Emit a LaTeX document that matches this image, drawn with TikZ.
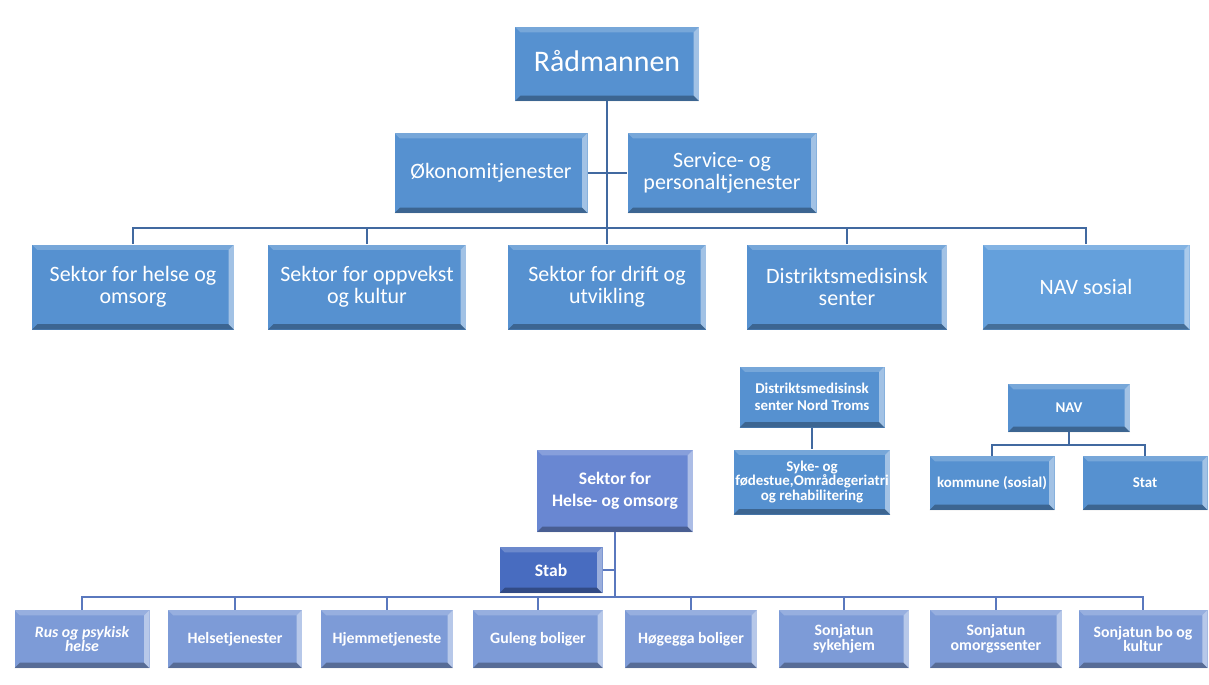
\documentclass[tikz,border=0pt]{standalone}
\usepackage{fontspec}
\setmainfont{Carlito}
\usepackage{tikz}
\definecolor{topblue}{RGB}{86,145,208}
\definecolor{navblue}{RGB}{100,160,220}
\definecolor{lowblue}{RGB}{125,155,215}
\definecolor{sekblue}{RGB}{105,135,210}
\definecolor{stabblue}{RGB}{72,108,192}
\definecolor{linetop}{RGB}{65,105,160}
\definecolor{linelow}{RGB}{90,120,190}
\tikzset{bevel/.style={path picture={
  \fill[black,opacity=.3] (path picture bounding box.south west) -- (path picture bounding box.south east) -- ([shift={(-3pt,3pt)}]path picture bounding box.south east) -- ([shift={(3pt,3pt)}]path picture bounding box.south west) -- cycle;
  \fill[white,opacity=.45] (path picture bounding box.south east) -- (path picture bounding box.north east) -- ([shift={(-3pt,-3pt)}]path picture bounding box.north east) -- ([shift={(-3pt,3pt)}]path picture bounding box.south east) -- cycle;
  \fill[white,opacity=.2] (path picture bounding box.north west) -- (path picture bounding box.north east) -- ([shift={(-3pt,-3pt)}]path picture bounding box.north east) -- ([shift={(3pt,-3pt)}]path picture bounding box.north west) -- cycle;
}}}
\tikzset{unit/.style={fill=topblue, text=white, align=center, inner sep=1pt, bevel}}
\tikzset{sz/.style 2 args={minimum width={#1*0.02cm}, minimum height={#2*0.02cm}}}
\tikzset{big/.style={font=\fontsize{12.5}{12.5}\selectfont}}
\tikzset{small/.style={font=\bfseries\fontsize{8.5}{10}\selectfont}}
\tikzset{low/.style={unit, fill=lowblue, font=\bfseries\fontsize{9}{8.5}\selectfont}}
\tikzset{conn/.style={draw=linetop, line width=0.8pt}}
\tikzset{connlow/.style={draw=linelow, line width=0.8pt}}

\begin{document}
\begin{tikzpicture}[x=0.02cm, y=-0.02cm]
    \useasboundingbox (0, 0) rectangle (1209, 684);

    \node[unit,sz={184}{74},font=\fontsize{17}{20}\selectfont] at (607, 64) (rad) {\raisebox{4pt}{Rådmannen}};
    \node[unit,sz={193}{80},big] at (491, 173) (oko) {Økonomitjenester};
    \node[unit,sz={189}{80},big] at (722, 173) (serv) {Service- og\\personaltjenester};

    \node[unit,sz={202}{85},big] at (133, 287) (helse) {Sektor for helse og\\omsorg};
    \node[unit,sz={198}{85},big] at (367, 287) (oppv) {Sektor for oppvekst\\og kultur};
    \node[unit,sz={198}{85},big] at (607, 287) (drift) {Sektor for drift og\\utvikling};
    \node[unit,sz={200}{85},big] at (847, 287) (dms) {Distriktsmedisinsk\\senter};
    \node[unit,sz={207}{85},big,fill=navblue] at (1086, 287) (navs) {NAV sosial};

    \coordinate (bus) at (607, 228);
    \draw[conn] (rad) -- (bus);
    \draw[conn] (oko) -- (serv);
    \draw[conn] (helse.north) |- (bus);
    \draw[conn] (oppv.north) |- (bus);
    \draw[conn] (drift.north) -- (bus);
    \draw[conn] (dms.north) |- (bus);
    \draw[conn] (navs.north) |- (bus);

    % distriktsmedisinsk senter
    \node[unit,sz={145}{61},small] at (812, 397) (dmsnt) {Distriktsmedisinsk\\senter Nord Troms};
    \node[unit,sz={150}{65},small,font=\bfseries\fontsize{8.5}{8}\selectfont] at (812, 482) (syke) {Syke- og\\fødestue,Områdegeriatri\\og rehabilitering};
    \draw[conn] (dmsnt) -- (syke);

    % NAV
    \node[unit,sz={122}{48},small] at (1069, 408) (nav) {NAV};
    \node[unit,sz={125}{54},small] at (992, 483) (komm) {kommune (sosial)};
    \node[unit,sz={125}{54},small] at (1145, 483) (stat) {Stat};
    \coordinate (navbus) at (1069, 445);
    \draw[conn] (nav) -- (navbus);
    \draw[conn] (komm.north) |- (navbus);
    \draw[conn] (stat.north) |- (navbus);

    % sektor for helse- og omsorg
    \node[low,sz={156}{82},fill=sekblue,font=\bfseries\fontsize{10}{12.5}\selectfont] at (615, 491) (shelse) {Sektor for\\Helse- og omsorg};
    \node[low,sz={103}{46},fill=stabblue,font=\bfseries\fontsize{10}{12}\selectfont] at (551, 570) (stab) {Stab};
    \coordinate (lowbus) at (615, 597);
    \draw[connlow] (shelse) -- (lowbus);
    \draw[connlow] (stab) -- (stab -| shelse);

    \node[low,sz={135}{58}] at (82, 639) (rus) {\itshape Rus og psykisk\\\itshape helse};
    \node[low,sz={134}{58}] at (235, 639) (hts) {Helsetjenester};
    \node[low,sz={132}{58}] at (387, 639) (hjt) {Hjemmetjeneste};
    \node[low,sz={130}{58}] at (538, 639) (gul) {Guleng boliger};
    \node[low,sz={132}{58}] at (691, 639) (hog) {Høgegga boliger};
    \node[low,sz={130}{58}] at (844, 639) (syk) {Sonjatun\\sykehjem};
    \node[low,sz={132}{58}] at (996, 639) (oms) {Sonjatun\\omorgssenter};
    \node[low,sz={129}{58}] at (1143, 639) (bok) {Sonjatun bo og\\kultur};

    \foreach \b in {rus,hts,hjt,gul,hog,syk,oms,bok}
      \draw[connlow] (\b.north) |- (lowbus);
  \end{tikzpicture}
\end{document}
